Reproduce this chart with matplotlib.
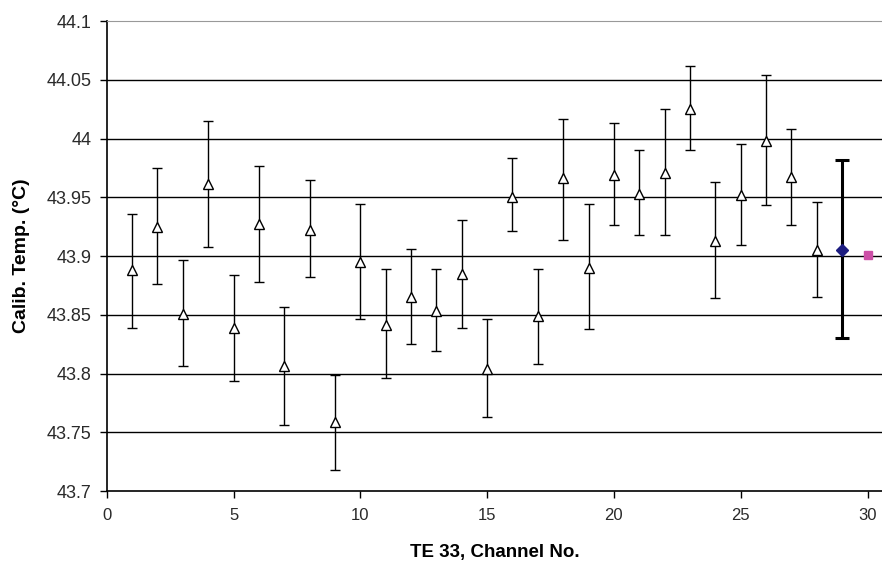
import matplotlib
matplotlib.use("Agg")
import matplotlib.pyplot as plt
from matplotlib.ticker import FuncFormatter
from matplotlib import font_manager

plt.rcParams['font.family'] = ['Liberation Sans', 'DejaVu Sans']

# Channel data (triangles)
channels = list(range(1, 29))
mean_temp = [43.888, 43.925, 43.851, 43.961, 43.839, 43.927, 43.806, 43.922, 43.759, 43.895,
             43.841, 43.865, 43.853, 43.885, 43.804, 43.950, 43.849, 43.966, 43.890, 43.969,
             43.953, 43.971, 44.025, 43.913, 43.952, 43.998, 43.967, 43.905]
upper_temp = [43.936, 43.975, 43.897, 44.015, 43.884, 43.977, 43.857, 43.965, 43.799, 43.944,
              43.889, 43.906, 43.889, 43.931, 43.846, 43.983, 43.889, 44.017, 43.944, 44.013,
              43.990, 44.025, 44.062, 43.963, 43.995, 44.054, 44.008, 43.946]
lower_temp = [43.839, 43.876, 43.806, 43.908, 43.794, 43.878, 43.756, 43.882, 43.718, 43.846,
              43.796, 43.825, 43.819, 43.839, 43.763, 43.921, 43.808, 43.914, 43.838, 43.926,
              43.918, 43.918, 43.990, 43.864, 43.909, 43.943, 43.926, 43.865]

# Overall mean (diamond) and reference (square)
avg_x = [29]
avg_y = [43.905]
avg_upper = [43.982]
avg_lower = [43.830]
ref_x = [30]
ref_y = [43.901]

y_ticks = [43.7, 43.75, 43.8, 43.85, 43.9, 43.95, 44.0, 44.05, 44.1]
x_ticks = [0, 5, 10, 15, 20, 25, 30]

installed = {f.name for f in font_manager.fontManager.ttflist}
narrow = ['Liberation Sans Narrow', 'Liberation Sans'] if 'Liberation Sans Narrow' in installed \
    else ['Liberation Sans']

fig = plt.figure(figsize=(8.82, 5.62), dpi=100)
ax = fig.add_axes([0.121, 0.1263, 0.879, 0.8363])

for yv in y_ticks[1:-1]:
    ax.axhline(yv, color='black', lw=1.0, zorder=1)

yerr = [[m - l for m, l in zip(mean_temp, lower_temp)],
        [u - m for m, u in zip(mean_temp, upper_temp)]]
ax.errorbar(channels, mean_temp, yerr=yerr, fmt='^', ms=6.5, mfc='white', mec='black',
            mew=1.0, ecolor='black', elinewidth=1.0, capsize=3.5, capthick=1.0, zorder=3)

yerr2 = [[m - l for m, l in zip(avg_y, avg_lower)],
         [u - m for m, u in zip(avg_y, avg_upper)]]
ax.errorbar(avg_x, avg_y, yerr=yerr2, fmt='D', ms=6.5, mfc='#1c1c80', mec='#1c1c80',
            ecolor='black', elinewidth=2.2, capsize=4.7, capthick=2.2, zorder=4)
ax.plot(ref_x, ref_y, 's', ms=5.5, mfc='#cc4fa6', mec='#cc4fa6', zorder=4)

ax.set_xlim(0, 30.57)
ax.set_ylim(43.7, 44.1)
ax.set_xticks(x_ticks)
ax.set_yticks(y_ticks)
ax.yaxis.set_major_formatter(FuncFormatter(lambda v, p: ('%.2f' % v).rstrip('0').rstrip('.')))

ax.spines['right'].set_visible(False)
ax.spines['top'].set_color('#999999')
ax.spines['left'].set_color('black')
ax.spines['bottom'].set_color('black')
ax.spines['left'].set_linewidth(1.2)
ax.spines['bottom'].set_linewidth(1.2)
ax.tick_params(axis='both', direction='out', length=5, width=1, colors='black',
               labelcolor='#2a2a2a')
ax.tick_params(axis='y', labelsize=13, pad=6)
ax.tick_params(axis='x', labelsize=12, pad=7)
for lbl in ax.get_xticklabels():
    lbl.set_family(narrow)

ax.set_xlabel('TE 33, Channel No.', fontsize=13.5, fontweight='bold', labelpad=15)
ax.set_ylabel('Calib. Temp. (°C)', fontsize=14, fontweight='bold', labelpad=12)

fig.savefig('out.png', dpi=100)
